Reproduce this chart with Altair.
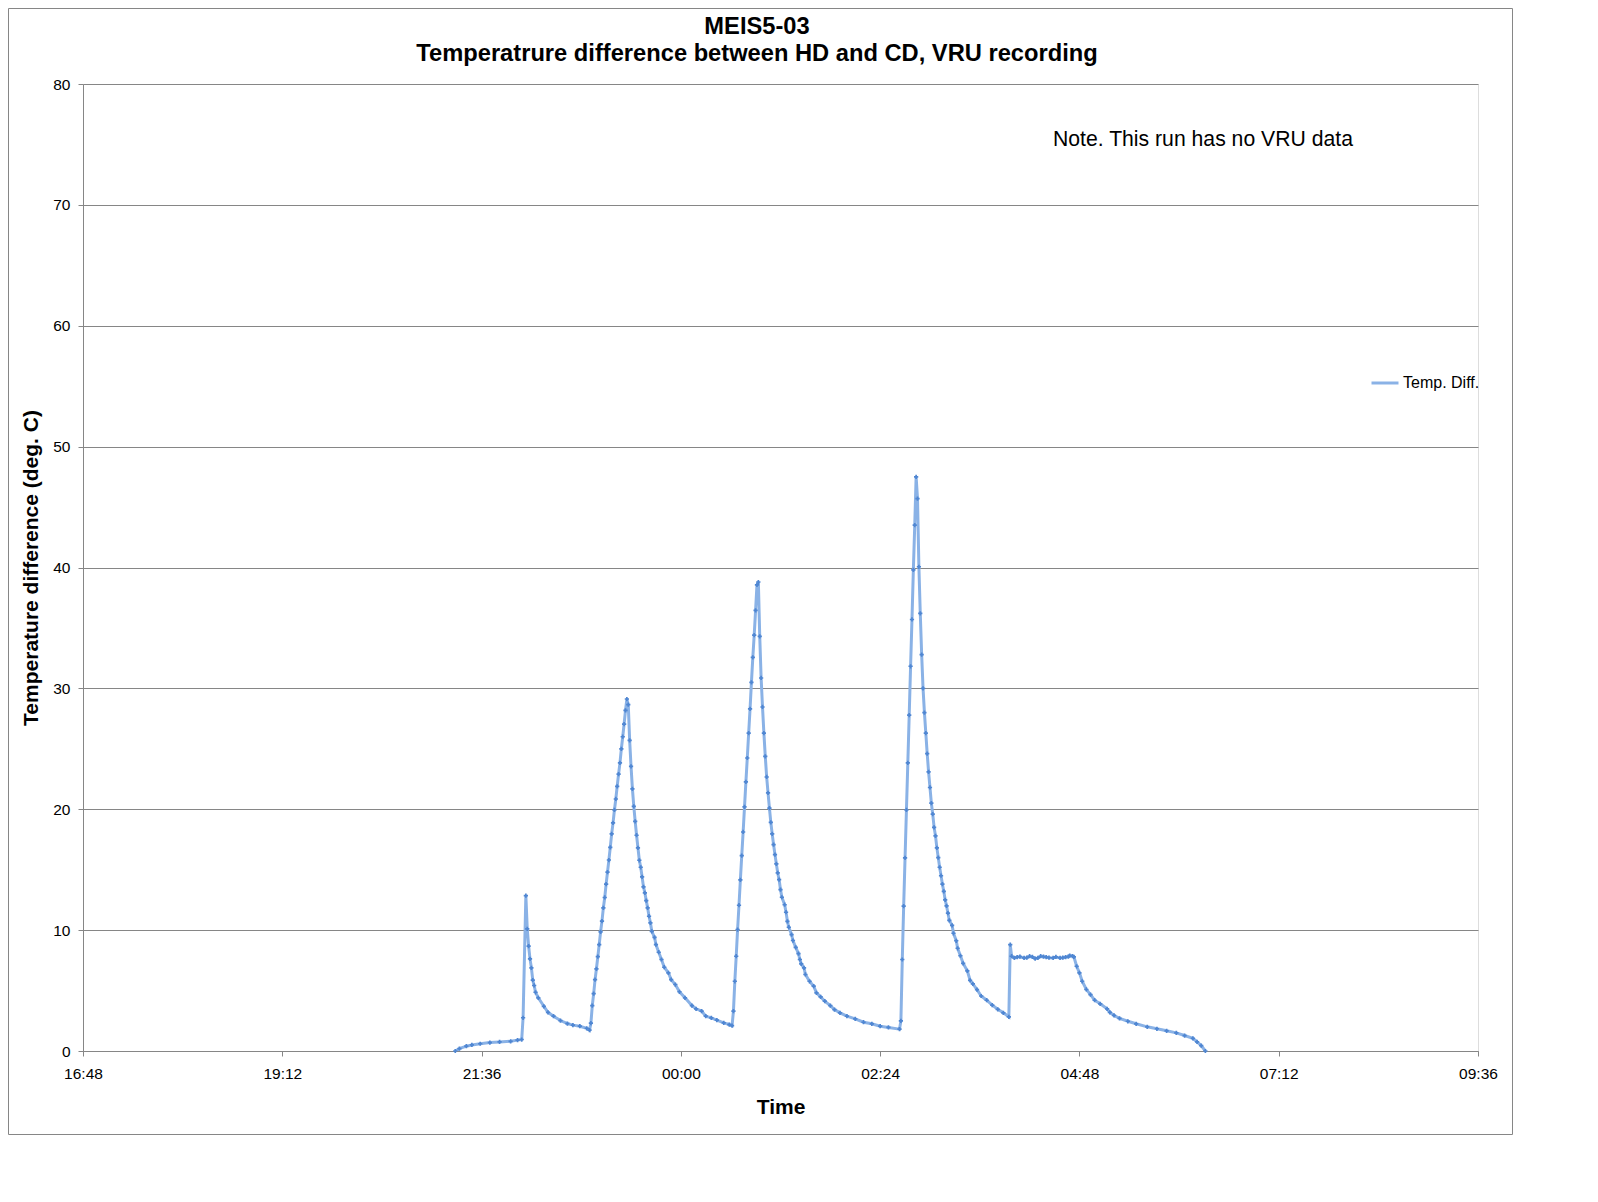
import altair as alt
import pandas as pd
from datetime import datetime, timedelta

# ---------------- text ----------------
title_lines = ["MEIS5-03", "Temperatrure difference between HD and CD, VRU recording"]
x_title = "Time"
y_title = "Temperature difference (deg. C)"
series_name = "Temp. Diff."
note_text = "Note. This run has no VRU data"

# ---------------- axes ----------------
x_tick_labels = ["16:48", "19:12", "21:36", "00:00", "02:24", "04:48", "07:12", "09:36"]
y_ticks = [0, 10, 20, 30, 40, 50, 60, 70, 80]
y_domain = [0, 80]

# ---------------- data (minutes after 16:48, deg C) ----------------
minutes_after_1648 = [
    269, 272, 277, 281, 287, 294, 301, 309, 314, 317,
    318, 320, 321, 322, 323, 324, 325, 326, 327, 329, 333, 336, 340, 345, 350, 354, 359, 364, 366,
    367, 368, 369, 370, 371, 372, 373, 374, 375, 376, 377, 378, 379, 380, 381, 382, 383, 384, 385,
    386, 387, 388, 389, 390, 391, 392, 393,
    394, 395, 396, 397, 398, 399, 400, 401, 402, 403, 404, 405, 406, 407, 408, 409, 410, 411, 413,
    414, 416, 418, 420, 423, 425, 428, 431, 435, 440, 443, 447, 450, 454, 458, 463, 467,
    469, 470, 471, 472, 473, 474, 475, 476, 477, 478, 479, 480, 481, 482, 483, 484, 485, 486, 487, 488,
    489, 490, 491, 492, 493, 494, 495, 496, 497, 498, 499, 500, 501, 502, 503, 504, 505, 507, 508,
    509, 510, 512, 513, 515, 517, 518, 519, 521, 522, 525, 528, 530, 533, 536, 540, 543, 547, 552,
    558, 564, 570, 576, 582,
    590, 591, 592, 593, 594, 595, 596, 597, 598, 599, 600, 601, 602,
    603, 604, 605, 606, 607, 608, 609, 610, 611, 612, 613, 614, 615, 616, 617, 618, 619, 620, 621,
    622, 623, 624, 625, 626, 628, 629, 631, 632, 634, 636, 639, 641, 643, 646, 649, 653, 657, 661,
    665, 669,
    670, 671, 673, 675, 677, 680, 682, 684, 686, 688, 690, 692, 694, 696, 698, 701, 703, 706, 708,
    710, 712, 713, 715, 716,
    718, 720, 722, 725, 728, 731, 735, 740, 742, 745, 749, 755, 761, 769, 776, 783, 790, 796, 802,
    805, 808, 811,
]
temp_diff = [
    0.0, 0.2, 0.4, 0.5, 0.6, 0.7, 0.75, 0.8, 0.9, 0.95,
    2.75, 12.86, 10.1, 8.67, 7.62, 6.88, 5.86, 5.42, 4.86, 4.4, 3.7, 3.2, 2.88, 2.52, 2.27, 2.14, 2.05, 1.88, 1.72,
    2.3, 3.76, 4.75, 5.9, 6.8, 7.8, 8.8, 9.86, 10.75, 11.84, 12.7, 13.8, 14.8, 15.8, 16.85, 17.96, 18.87, 19.94, 20.85,
    21.9, 22.9, 23.83, 25.0, 26.0, 27.05, 28.18, 29.12,
    28.65, 25.7, 23.55, 21.68, 20.24, 19.0, 17.85, 16.8, 15.78, 15.2, 14.4, 13.58, 13.08, 12.44, 11.84, 11.15, 10.6, 9.9, 9.4,
    8.8, 8.17, 7.57, 6.93, 6.47, 5.9, 5.5, 4.9, 4.4, 3.76, 3.49, 3.3, 2.88, 2.74, 2.55, 2.33, 2.19,
    2.1, 3.3, 5.77, 7.84, 10.05, 12.06, 14.15, 16.17, 18.12, 20.2, 22.26, 24.24, 26.3, 28.3, 30.5, 32.56, 34.4, 36.45, 38.57, 38.8,
    34.3, 30.86, 28.46, 26.3, 24.38, 22.67, 21.35, 20.1, 18.92, 17.96, 17.07, 16.25, 15.48, 14.73, 14.18, 13.35, 12.72, 12.1, 11.48,
    10.73, 10.24, 9.63, 9.14, 8.58, 8.06, 7.57, 7.2, 6.88, 6.33, 5.77, 5.36, 4.81, 4.48, 4.12, 3.76, 3.43, 3.16, 2.88,
    2.66, 2.38, 2.25, 2.05, 1.95,
    1.81, 2.5, 7.57, 11.98, 15.97, 19.94, 23.83, 27.78, 31.83, 35.7, 39.8, 43.5, 47.5,
    45.7, 40.06, 36.2, 32.8, 30.0, 28.0, 26.3, 24.6, 23.1, 21.8, 20.5, 19.6, 18.5, 17.8, 16.8, 16.0, 15.2, 14.5, 13.8,
    13.2, 12.5, 12.0, 11.4, 10.8, 10.4, 9.74, 9.12, 8.5, 7.88, 7.25, 6.63, 5.85, 5.55, 5.08, 4.55, 4.2, 3.8, 3.45,
    3.16, 2.83,
    8.8, 7.84, 7.7, 7.76, 7.8, 7.7, 7.72, 7.84, 7.78, 7.65, 7.7, 7.84, 7.8, 7.76, 7.72, 7.7, 7.78, 7.7, 7.72,
    7.76, 7.8, 7.9, 7.85, 7.79,
    7.01, 6.47, 5.77, 5.09, 4.67, 4.2, 3.9, 3.49, 3.2, 2.94, 2.7, 2.46, 2.25, 2.0, 1.84, 1.67, 1.5, 1.28, 1.05,
    0.75, 0.45, 0.0,
]

base = datetime(2024, 1, 1, 16, 48)
times = [(base + timedelta(minutes=m)).strftime("%Y-%m-%dT%H:%M:%S") for m in minutes_after_1648]
df = pd.DataFrame({"time": times, "value": temp_diff, "series": series_name})


def clock_dt(label):
    h, m = (int(p) for p in label.split(":"))
    day = 1 if h >= 12 else 2
    return alt.DateTime(year=2024, month=1, date=day, hours=h, minutes=m)


x_values = [clock_dt(lbl) for lbl in x_tick_labels]
x_domain = [clock_dt(x_tick_labels[0]), clock_dt(x_tick_labels[-1])]

FONT = "Liberation Sans"
GRAY = "#868686"
LINE_COLOR = "#8ab2e6"
MARK_COLOR = "#4f86d2"

x_enc = alt.X(
    "time:T",
    scale=alt.Scale(domain=x_domain, nice=False),
    axis=alt.Axis(
        values=x_values, format="%H:%M", grid=False, labelFlush=False, labelOverlap=False,
        domainColor=GRAY, tickColor=GRAY, tickSize=5, labelFont=FONT, labelFontSize=15.5,
        labelColor="black", labelPadding=10, title=x_title, titleFont=FONT, titleFontSize=21,
        titleFontWeight="bold", titleColor="black", titleY=56, titleBaseline="middle",
    ),
)
y_enc = alt.Y(
    "value:Q",
    scale=alt.Scale(domain=y_domain, nice=False),
    axis=alt.Axis(
        values=y_ticks, grid=True, gridColor=GRAY, domainColor=GRAY, tickColor=GRAY, tickSize=5,
        labelFlush=False, labelFont=FONT, labelFontSize=15.5, labelColor="black", labelPadding=8,
        title=y_title, titleFont=FONT, titleFontSize=21, titleFontWeight="bold", titleColor="black",
        titleX=-52, titleY=483.5, titleAngle=-90, titleAlign="center", titleBaseline="middle",
    ),
)

line = alt.Chart(df).mark_line(strokeWidth=3, clip=True).encode(
    x=x_enc,
    y=y_enc,
    color=alt.Color(
        "series:N",
        scale=alt.Scale(range=[LINE_COLOR]),
        legend=alt.Legend(
            title=None, orient="none", legendX=1287, legendY=284, symbolType="stroke",
            symbolStrokeWidth=3, symbolSize=729, labelFont=FONT, labelFontSize=16,
            labelColor="black", labelOffset=3, padding=0,
        ),
    ),
)

points = alt.Chart(df).mark_point(shape="cross", filled=True, size=18, color=MARK_COLOR, opacity=1).encode(
    x="time:T", y="value:Q"
)

note = alt.Chart(pd.DataFrame({"note": [note_text]})).mark_text(
    align="left", baseline="middle", font=FONT, fontSize=21.2, color="black"
).encode(x=alt.value(970), y=alt.value(56), text="note:N")

frame = alt.Chart(pd.DataFrame({"a": [1]})).mark_rect(
    fill="transparent", stroke=GRAY, strokeWidth=1
).encode(x=alt.value(-74.5), x2=alt.value(1429.5), y=alt.value(-75.5), y2=alt.value(1050.5))

chart = alt.layer(frame, line, points, note).properties(
    width=1395,
    height=967,
    title=alt.TitleParams(
        text=title_lines, font=FONT, fontSize=23.7, fontWeight="bold", color="black",
        anchor="middle", frame="group", dx=-23.5, dy=68, lineHeight=27.4, offset=10,
    ),
    autosize=alt.AutoSizeParams(type="none"),
    padding={"left": 75, "top": 76, "right": 37, "bottom": 85},
).configure_view(stroke=None).configure(background="white")

chart.save("out.html", embed_options={"renderer": "svg", "actions": False})
